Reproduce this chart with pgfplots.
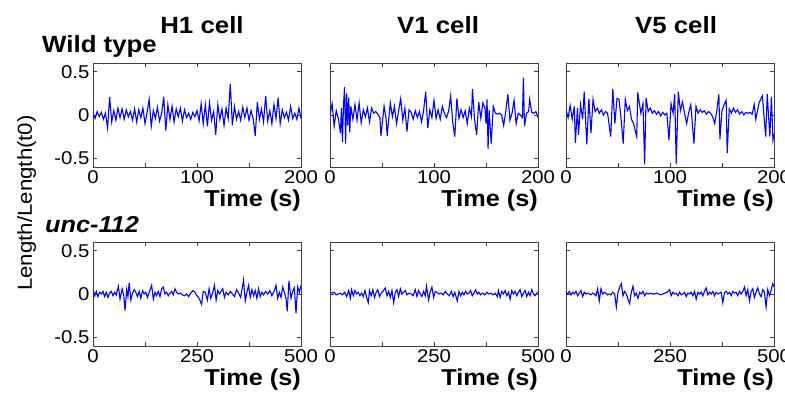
\documentclass[border=0pt]{standalone}
\usepackage{fontspec}
\setmainfont{Liberation Sans}[FakeStretch=1.1]
\usepackage{pgfplots}
\pgfplotsset{compat=1.18}
\pgfplotsset{
  cell/.style={
    scale only axis, width=208pt, height=104pt, anchor=south west,
    ymin=-0.6, ymax=0.6, ytick={-0.5,0,0.5}, yticklabels={},
    axis line style={black!75, line width=0.8pt},
    every tick/.style={black!75, line width=0.6pt},
    major tick length=4pt, tick align=inside,
    tick label style={font=\fontsize{18.5}{20}\selectfont},
    xlabel={Time (s)},
    xlabel style={at={(rel axis cs:1,0)}, anchor=base east, yshift=-39pt, font=\bfseries\fontsize{23}{26}\selectfont, inner sep=0pt},
    every axis plot/.append style={blue, line width=1.1pt, no markers},
  },
  toprow/.style={cell, xmin=0, xmax=200, xtick={0,50,100,150,200}, xticklabels={0,,100,,200}},
  botrow/.style={cell, xmin=0, xmax=500, xtick={0,125,250,375,500}, xticklabels={0,,250,,500}},
  leftcol/.style={yticklabels={-0.5,0,0.5}},
}
\begin{document}
\begin{tikzpicture}[x=1pt,y=1pt]
\useasboundingbox (0,0) rectangle (785,392);

% ---------- Top row: Wild type ----------
\begin{axis}[toprow, leftcol, at={(93pt,225pt)}]
\addplot coordinates {(0,0.02)(2,-0.04)(4,0.04)(6,-0.02)(8,0.03)(10,-0.05)(12,0.02)(14,-0.15)(16,0.21)(18,-0.08)(20,0.05)(22,-0.06)(24,0.08)(26,-0.03)(28,0.07)(30,-0.05)(32,0.06)(34,-0.02)(36,0.04)(38,-0.06)(40,0.07)(42,-0.08)(44,0.06)(46,-0.03)(48,0.08)(50,-0.10)(52,0.03)(54,0.18)(56,-0.13)(58,0.05)(60,-0.04)(62,0.09)(64,-0.07)(66,0.02)(68,0.21)(70,-0.18)(72,0.12)(74,-0.05)(76,0.10)(78,-0.08)(80,0.07)(82,-0.02)(84,0.08)(86,-0.07)(88,0.06)(90,-0.03)(92,0.02)(94,-0.05)(96,0.03)(98,-0.02)(100,0.05)(102,-0.07)(104,0.13)(106,-0.10)(108,0.12)(110,-0.13)(112,0.14)(114,-0.06)(116,0.04)(118,-0.23)(120,0.12)(122,-0.05)(124,0.07)(126,-0.12)(128,0.08)(130,-0.04)(132,0.36)(134,-0.12)(136,0.10)(138,-0.05)(140,0.04)(142,-0.06)(144,0.09)(146,-0.03)(148,0.08)(150,-0.06)(152,0.05)(154,-0.04)(156,-0.24)(158,0.15)(160,-0.05)(162,0.07)(164,-0.08)(166,0.22)(168,-0.07)(170,0.05)(172,-0.10)(174,0.12)(176,-0.04)(178,0.20)(180,-0.10)(182,0.06)(184,-0.03)(186,0.03)(188,-0.06)(190,0.10)(192,-0.04)(194,0.02)(196,-0.05)(198,0.08)(200,-0.04)};
\end{axis}

\begin{axis}[toprow, at={(330pt,225pt)}]
\addplot coordinates {(0,0.00)(2,0.13)(4,-0.13)(6,0.05)(8,-0.04)(10,-0.21)(11,0.08)(12,-0.31)(13,0.12)(14,0.32)(15,-0.33)(16,0.25)(17,-0.12)(18,0.20)(19,-0.20)(20,0.10)(22,-0.05)(24,0.12)(26,-0.06)(28,0.14)(30,-0.09)(32,0.06)(34,-0.02)(36,0.08)(38,-0.08)(40,0.08)(42,0.02)(44,0.04)(46,0.01)(48,-0.03)(49,-0.24)(52,0.10)(54,-0.05)(55,-0.24)(58,0.14)(60,-0.02)(62,0.10)(64,-0.10)(66,0.05)(68,0.19)(70,-0.06)(72,0.08)(74,-0.19)(76,0.06)(78,0.03)(80,-0.05)(82,0.05)(84,-0.03)(86,0.04)(88,-0.08)(90,0.05)(92,0.27)(94,-0.15)(96,0.06)(98,-0.03)(100,0.17)(102,-0.04)(104,0.06)(106,-0.05)(108,0.10)(110,0.02)(112,-0.03)(114,0.04)(116,0.22)(118,-0.08)(120,-0.25)(122,0.19)(124,-0.04)(126,0.06)(128,-0.03)(130,0.05)(132,-0.10)(134,0.08)(136,-0.02)(137,0.30)(139,-0.05)(141,-0.23)(143,0.15)(145,-0.04)(147,0.14)(149,0.08)(150,-0.10)(151,0.18)(152,-0.39)(153,0.06)(155,-0.33)(157,0.10)(159,0.02)(161,0.01)(163,0.02)(165,0.00)(167,-0.12)(169,0.04)(171,0.24)(173,-0.06)(175,0.02)(177,0.17)(179,-0.10)(181,0.02)(183,0.00)(185,-0.03)(186,0.43)(187,-0.13)(189,0.02)(191,0.04)(192,0.18)(194,0.03)(196,0.02)(198,0.04)(200,-0.03)};
\end{axis}

\begin{axis}[toprow, at={(566pt,225pt)}]
\addplot coordinates {(0,0.06)(2,-0.03)(4,0.11)(6,-0.05)(8,0.10)(9,-0.32)(11,0.08)(12,-0.23)(14,0.12)(16,-0.05)(17.5,0.27)(20,-0.34)(22,0.19)(24,-0.21)(26,0.18)(28,0.04)(30,0.08)(32,0.02)(34,0.06)(36,0.00)(38,0.04)(40,0.02)(43,-0.25)(45,0.30)(47,-0.10)(49,0.19)(51,0.18)(53,-0.05)(55,-0.33)(57,0.18)(59,0.05)(61,0.10)(63,-0.05)(65,-0.10)(68,-0.25)(69,0.26)(72,0.02)(74,0.13)(75.6,-0.57)(77,0.20)(79,0.04)(81,0.08)(83,0.02)(85,0.05)(87,0.01)(89,0.04)(91,-0.01)(93,0.03)(95,0.00)(97,0.02)(99,-0.29)(101,0.13)(103,0.02)(104.5,0.24)(106,-0.56)(108,0.27)(110,0.05)(112,0.15)(114,0.02)(116,-0.10)(118,0.03)(120,0.12)(123,-0.33)(125,0.10)(127,0.02)(129,0.06)(131,0.03)(133,0.05)(135,0.01)(137,0.04)(139,0.02)(141,-0.02)(143,-0.10)(145,0.05)(147,0.24)(148,-0.28)(150,0.05)(152,0.12)(154,0.17)(155,-0.44)(157,0.07)(159,0.02)(161,0.08)(163,0.03)(165,0.06)(167,0.01)(169,0.04)(171,0.00)(173,0.03)(175,0.02)(177,0.03)(179,0.01)(181,0.12)(182.5,-0.05)(184,0.04)(185.6,0.14)(188.8,0.22)(192,-0.25)(193.5,0.24)(196,-0.25)(197.5,0.21)(199,-0.29)(200,-0.22)};
\end{axis}

% ---------- Bottom row: unc-112 ----------
\begin{axis}[botrow, leftcol, at={(93pt,46pt)}]
\addplot coordinates {(0,0.05)(4,-0.02)(8,0.03)(12,-0.03)(16,0.02)(20,0.00)(24,0.03)(28,-0.03)(32,0.02)(36,-0.04)(40,0.01)(44,0.03)(48,-0.02)(52,0.02)(56,-0.01)(61,0.09)(65,-0.06)(70,0.06)(74,-0.02)(77,-0.19)(81,0.05)(84,-0.03)(87,0.13)(91,-0.07)(95,0.01)(99,0.05)(103,0.02)(107,-0.03)(111,0.03)(115,-0.05)(119,0.04)(123,0.00)(127,0.02)(131,-0.04)(136,0.03)(141,0.10)(145,-0.06)(149,0.02)(153,-0.02)(157,0.03)(161,-0.03)(165,0.06)(169,0.08)(173,0.00)(177,0.02)(181,-0.02)(185,0.01)(189,0.03)(193,-0.01)(197,0.06)(201,0.02)(205,0.00)(210,0.01)(215,-0.01)(220,-0.02)(225,0.00)(230,-0.03)(235,0.01)(240,0.04)(245,0.02)(250,-0.02)(255,-0.05)(261,-0.12)(265,0.03)(270,0.02)(275,-0.07)(279,0.06)(283,-0.05)(288,0.02)(292,0.10)(296,-0.07)(300,0.04)(304,0.00)(308,0.03)(312,0.06)(316,-0.04)(320,0.02)(325,-0.01)(330,0.03)(335,0.00)(340,-0.03)(345,0.05)(350,0.01)(355,-0.04)(362,0.16)(366,-0.08)(370,0.02)(374,0.10)(378,-0.04)(382,0.05)(386,-0.02)(390,0.04)(394,-0.05)(398,0.06)(402,-0.03)(406,0.02)(410,-0.01)(415,0.03)(420,0.00)(425,0.04)(430,-0.02)(435,0.03)(440,0.10)(444,-0.05)(448,0.02)(452,-0.04)(456,0.08)(460,0.02)(464,-0.05)(467,-0.20)(471,0.15)(476,-0.05)(480,0.03)(484,0.07)(488,-0.22)(492,0.08)(496,0.02)(500,0.10)};
\end{axis}

\begin{axis}[botrow, at={(330pt,46pt)}]
\addplot coordinates {(0,0.02)(5,0.01)(10,0.02)(15,-0.01)(20,0.00)(25,0.01)(30,-0.01)(35,0.02)(40,-0.03)(45,0.04)(49,-0.05)(52,0.05)(56,-0.02)(60,0.04)(64,0.00)(68,0.02)(72,-0.02)(76,0.01)(80,-0.03)(84,0.04)(88,-0.04)(92,-0.10)(95,0.04)(99,-0.02)(103,0.05)(107,-0.04)(111,0.02)(115,0.05)(119,-0.03)(123,0.01)(127,0.03)(133,0.07)(137,-0.02)(141,0.03)(145,-0.04)(149,0.04)(153,-0.10)(157,0.02)(161,0.05)(165,-0.03)(169,0.06)(173,0.00)(177,0.02)(181,0.04)(185,-0.01)(190,0.01)(195,0.00)(200,-0.02)(205,0.05)(209,-0.03)(213,0.04)(217,0.00)(221,-0.03)(225,0.03)(229,-0.02)(232,0.09)(237,-0.07)(241,0.03)(245,0.08)(249,-0.04)(253,0.03)(257,0.02)(262,0.00)(267,0.01)(272,-0.01)(277,0.03)(282,0.00)(287,-0.02)(292,0.03)(296,-0.03)(300,0.02)(306,-0.08)(310,0.03)(314,-0.02)(318,0.02)(322,-0.01)(326,0.03)(330,0.00)(334,0.01)(338,0.04)(342,-0.02)(346,0.01)(350,0.05)(354,0.00)(358,0.02)(362,-0.01)(367,0.01)(372,-0.01)(377,0.02)(382,0.00)(387,0.01)(392,-0.01)(397,0.01)(402,-0.03)(405,0.04)(409,-0.04)(413,0.03)(417,0.00)(421,0.04)(425,-0.02)(429,0.02)(433,-0.06)(437,0.04)(441,0.00)(445,0.03)(449,-0.02)(453,0.02)(457,0.05)(461,-0.03)(465,0.01)(469,0.04)(473,-0.03)(477,0.02)(481,-0.02)(485,0.05)(489,0.00)(493,-0.02)(497,0.01)(500,0.02)};
\end{axis}

\begin{axis}[botrow, at={(566pt,46pt)}]
\addplot coordinates {(0,0.02)(4,0.00)(8,0.03)(12,-0.01)(16,0.02)(20,0.00)(24,0.03)(28,-0.02)(32,0.01)(36,0.04)(40,-0.03)(44,0.02)(48,0.00)(52,0.01)(56,0.00)(60,-0.01)(64,0.01)(68,0.00)(72,-0.02)(76,0.06)(80,-0.08)(84,0.06)(88,0.00)(92,0.02)(96,0.01)(100,-0.01)(104,0.00)(108,-0.01)(112,0.02)(117,0.00)(121,-0.15)(125,0.02)(129,0.08)(133,0.12)(137,-0.02)(141,0.03)(145,0.00)(149,-0.06)(153,-0.11)(157,0.02)(161,0.09)(165,-0.02)(169,0.01)(173,-0.05)(177,0.02)(181,0.00)(185,0.03)(189,-0.02)(193,0.01)(198,0.00)(203,0.01)(208,0.00)(213,0.00)(218,0.01)(223,0.00)(228,-0.01)(233,0.00)(238,0.01)(243,0.02)(249,0.05)(253,-0.02)(257,0.02)(261,0.00)(265,0.01)(269,-0.02)(273,0.02)(277,-0.01)(281,0.00)(285,0.02)(289,-0.03)(293,0.01)(297,0.00)(301,0.02)(305,-0.02)(309,0.03)(313,-0.06)(317,0.02)(321,0.00)(325,0.02)(329,-0.02)(333,0.03)(337,0.07)(341,-0.01)(345,0.02)(349,0.00)(353,0.03)(357,-0.02)(361,0.02)(365,0.00)(369,0.01)(373,0.02)(377,-0.10)(381,0.02)(385,0.03)(389,0.00)(393,0.02)(397,-0.02)(401,0.03)(405,0.01)(409,0.02)(413,-0.02)(417,0.03)(421,0.00)(425,0.03)(429,0.08)(433,-0.02)(437,0.05)(441,-0.08)(445,0.03)(449,0.06)(453,-0.04)(457,0.02)(461,0.07)(465,0.00)(469,-0.03)(473,0.05)(477,0.02)(481,-0.15)(485,0.05)(489,-0.02)(493,0.04)(497,0.12)(500,0.08)};
\end{axis}

% ---------- Titles and labels ----------
\node[anchor=base, font=\bfseries\fontsize{23.5}{26}\selectfont, inner sep=0pt] at (202,359) {H1 cell};
\node[anchor=base, font=\bfseries\fontsize{23.5}{26}\selectfont, inner sep=0pt] at (438,359) {V1 cell};
\node[anchor=base, font=\bfseries\fontsize{23.5}{26}\selectfont, inner sep=0pt] at (676,359) {V5 cell};
\node[anchor=base west, font=\bfseries\fontsize{23.5}{26}\selectfont, inner sep=0pt] at (42,340) {Wild type};
\node[anchor=base west, font=\bfseries\itshape\fontsize{23}{26}\selectfont, inner sep=0pt] at (45,160) {unc-112};
\node[anchor=base, rotate=90, font=\fontsize{20.2}{24}\selectfont, inner sep=0pt] at (32,189) {Length/Length(t0)};
\end{tikzpicture}
\end{document}
